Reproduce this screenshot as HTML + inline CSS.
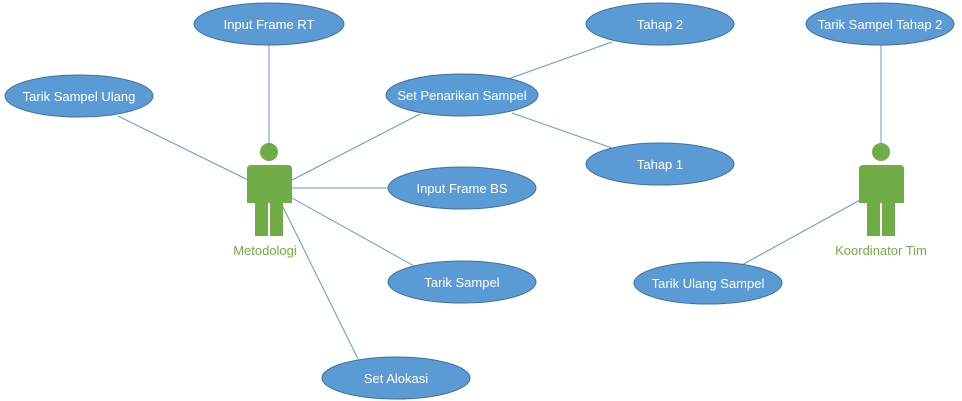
<!DOCTYPE html>
<html><head><style>html,body{margin:0;padding:0;background:#fff;}svg{display:block}</style></head><body>
<svg width="962" height="401" xmlns="http://www.w3.org/2000/svg" font-family="Liberation Sans, sans-serif">
<g stroke="#5B9BD5" stroke-width="1" fill="none">
<line x1="269" y1="45" x2="269" y2="143"/>
<line x1="118" y1="116" x2="248" y2="180"/>
<line x1="420" y1="114" x2="292" y2="180"/>
<line x1="292" y1="188" x2="388" y2="188"/>
<line x1="292" y1="198" x2="416" y2="267"/>
<line x1="282" y1="205" x2="358" y2="359"/>
<line x1="508" y1="79" x2="612" y2="42"/>
<line x1="512" y1="113" x2="612" y2="148"/>
<line x1="881" y1="45" x2="881" y2="143"/>
<line x1="740" y1="266" x2="860" y2="200"/>
</g>
<g fill="#5B9BD5" stroke="#41719C" stroke-width="1">
<ellipse cx="269" cy="24" rx="75" ry="21"/>
<ellipse cx="79" cy="96" rx="74" ry="21"/>
<ellipse cx="462" cy="95" rx="76" ry="21"/>
<ellipse cx="660" cy="24" rx="74" ry="21"/>
<ellipse cx="880" cy="24" rx="74" ry="21"/>
<ellipse cx="660" cy="164" rx="74" ry="21"/>
<ellipse cx="462" cy="188" rx="74" ry="21"/>
<ellipse cx="462" cy="282" rx="74" ry="21"/>
<ellipse cx="708" cy="283" rx="74" ry="21"/>
<ellipse cx="396" cy="378" rx="74" ry="21"/>
</g>
<g fill="#fff" font-size="13" text-anchor="middle">
<text x="269" y="29">Input Frame RT</text>
<text x="79" y="101">Tarik Sampel Ulang</text>
<text x="462" y="100">Set Penarikan Sampel</text>
<text x="660" y="29">Tahap 2</text>
<text x="880" y="29">Tarik Sampel Tahap 2</text>
<text x="660" y="169">Tahap 1</text>
<text x="462" y="193">Input Frame BS</text>
<text x="462" y="287">Tarik Sampel</text>
<text x="708" y="288">Tarik Ulang Sampel</text>
<text x="396" y="383">Set Alokasi</text>
</g>
<g fill="#70AD47">
<circle cx="269" cy="152" r="9"/>
<path d="M251 165 H288 Q292 165 292 169 V203 H283 V236 H270 V203 H268 V236 H255 V203 H247 V169 Q247 165 251 165 Z"/>
<circle cx="881" cy="152" r="9"/>
<path d="M863 165 H900 Q904 165 904 169 V203 H895 V236 H882 V203 H880 V236 H867 V203 H859 V169 Q859 165 863 165 Z"/>
</g>
<g stroke="#fff" stroke-width="1">
<line x1="269" y1="203" x2="269" y2="236"/>
<line x1="881" y1="203" x2="881" y2="236"/>
</g>
<g fill="#70AD47" font-size="13" text-anchor="middle">
<text x="265" y="255">Metodologi</text>
<text x="881" y="255">Koordinator Tim</text>
</g>
</svg>
</body></html>
